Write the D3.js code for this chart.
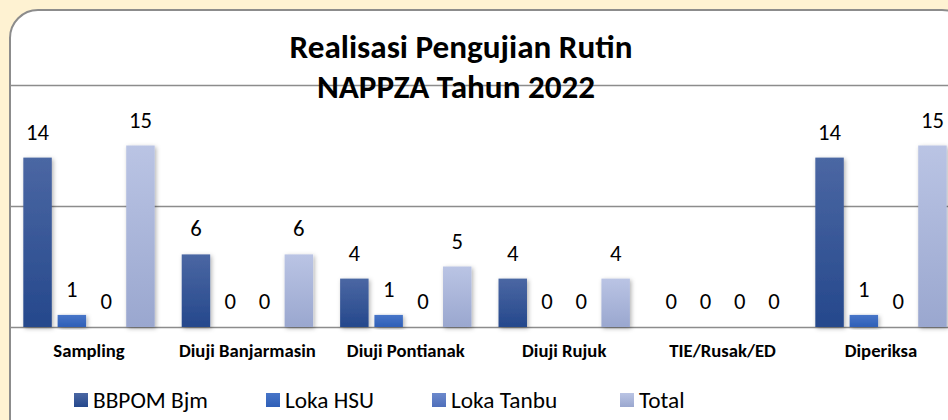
<!DOCTYPE html>
<html>
<head>
<meta charset="utf-8">
<script src="https://cdn.jsdelivr.net/npm/d3@7"></script>
<style>
  html, body { margin: 0; padding: 0; background: #fef2d2; }
  svg { display: block; }
  text { font-family: Carlito, Calibri, Lato, "Open Sans", sans-serif; fill: #000; }
</style>
</head>
<body>
<svg id="chart" width="948" height="420"></svg>
<script>
const titleLines = ["Realisasi Pengujian Rutin", "NAPPZA Tahun 2022"];
const categories = ["Sampling", "Diuji Banjarmasin", "Diuji Pontianak", "Diuji Rujuk", "TIE/Rusak/ED", "Diperiksa"];
const seriesNames = ["BBPOM Bjm", "Loka HSU", "Loka Tanbu", "Total"];
const bbpomBjm = [14, 6, 4, 4, 0, 14];
const lokaHSU  = [1, 0, 1, 0, 0, 1];
const lokaTanbu = [0, 0, 0, 0, 0, 0];
const total    = [15, 6, 5, 4, 0, 15];
const yTicks = [0, 10, 20];

const seriesValues = [bbpomBjm, lokaHSU, lokaTanbu, total];
const seriesColors = [
  ["#4b67a3", "#25488c"],
  ["#4775c8", "#2f5fb7"],
  ["#6c89cc", "#4f6fbb"],
  ["#bac4e4", "#9aa7cf"]
];

const svg = d3.select("#chart");
const W = 948, H = 420;

// panel
svg.append("rect").attr("x", 0).attr("y", 0).attr("width", W).attr("height", H).attr("fill", "#fef2d2");
svg.append("rect")
  .attr("x", 10).attr("y", 10).attr("width", 960).attr("height", 440)
  .attr("rx", 28).attr("ry", 28)
  .attr("fill", "#ffffff").attr("stroke", "#8c8c8c").attr("stroke-width", 2);

const defs = svg.append("defs");
seriesColors.forEach((c, i) => {
  const g = defs.append("linearGradient").attr("id", "grad" + i)
    .attr("x1", 0).attr("y1", 0).attr("x2", 0).attr("y2", 1);
  g.append("stop").attr("offset", "0%").attr("stop-color", c[0]);
  g.append("stop").attr("offset", "100%").attr("stop-color", c[1]);
});
const f = defs.append("filter").attr("id", "shadow").attr("x", "-30%").attr("y", "-10%").attr("width", "160%").attr("height", "130%");
f.append("feDropShadow").attr("dx", 1.5).attr("dy", 1.5).attr("stdDeviation", 2).attr("flood-color", "#000").attr("flood-opacity", 0.3);

const y = d3.scaleLinear().domain([0, 20]).range([327, 85]);
const step = 158.4;
const x0 = d3.scaleBand().domain(categories).range([89 - step / 2, 89 - step / 2 + step * categories.length]).padding(0);
const x1 = d3.scaleBand().domain(seriesNames).range([-68.6, 68.6]).paddingInner(0.17).paddingOuter(0.085);

// gridlines
const yAxis = d3.axisLeft(y).tickValues(yTicks).tickSize(-(W - 11)).tickFormat("");
const ga = svg.append("g").attr("transform", "translate(11,0)").call(yAxis);
ga.select(".domain").remove();
ga.selectAll(".tick line").attr("stroke", "#8c8c8c").attr("stroke-width", 1.3);

// fit helper
function fitSize(text, weight, targetW, base) {
  const t = svg.append("text").attr("font-size", base).attr("font-weight", weight).text(text);
  const w = t.node().getComputedTextLength();
  t.remove();
  return base * targetW / w;
}

// bars
const groups = svg.append("g").selectAll("g").data(categories).join("g")
  .attr("transform", d => `translate(${x0(d) + x0.bandwidth() / 2},0)`);

groups.each(function(cat, ci) {
  const g = d3.select(this);
  seriesNames.forEach((s, si) => {
    const v = seriesValues[si][ci];
    if (v > 0) {
      g.append("rect")
        .attr("x", x1(s)).attr("width", x1.bandwidth())
        .attr("y", y(v)).attr("height", y(0) - y(v))
        .attr("fill", `url(#grad${si})`)
        .attr("filter", "url(#shadow)");
    }
  });
});

const valSize = fitSize("14", "normal", 23, 20);
groups.each(function(cat, ci) {
  const g = d3.select(this);
  seriesNames.forEach((s, si) => {
    const v = seriesValues[si][ci];
    g.append("text")
      .attr("x", x1(s) + x1.bandwidth() / 2)
      .attr("y", y(v) - 18)
      .attr("text-anchor", "middle")
      .attr("font-size", valSize)
      .text(v);
  });
});

// category labels
const catSize = fitSize("Diuji Banjarmasin", "bold", 137, 14);
groups.append("text")
  .attr("x", 0).attr("y", 357)
  .attr("text-anchor", "middle")
  .attr("font-weight", "bold")
  .attr("font-size", catSize)
  .text(d => d);

// title
const titleSize = fitSize(titleLines[0], "bold", 343, 24);
svg.append("text")
  .attr("x", 461).attr("y", 58)
  .attr("text-anchor", "middle").attr("font-weight", "bold").attr("font-size", titleSize)
  .text(titleLines[0]);
svg.append("text")
  .attr("x", 456).attr("y", 98)
  .attr("text-anchor", "middle").attr("font-weight", "bold").attr("font-size", titleSize)
  .text(titleLines[1]);

// legend
const legSize = fitSize("BBPOM Bjm", "normal", 115, 20);
const legX = [74, 266, 432, 620];
const leg = svg.append("g").selectAll("g").data(seriesNames).join("g")
  .attr("transform", (d, i) => `translate(${legX[i]},0)`);
leg.append("rect").attr("x", 0).attr("y", 393).attr("width", 14).attr("height", 14)
  .attr("fill", (d, i) => `url(#grad${i})`);
leg.append("text").attr("x", 19).attr("y", 408).attr("font-size", legSize).text(d => d);
</script>
</body>
</html>
